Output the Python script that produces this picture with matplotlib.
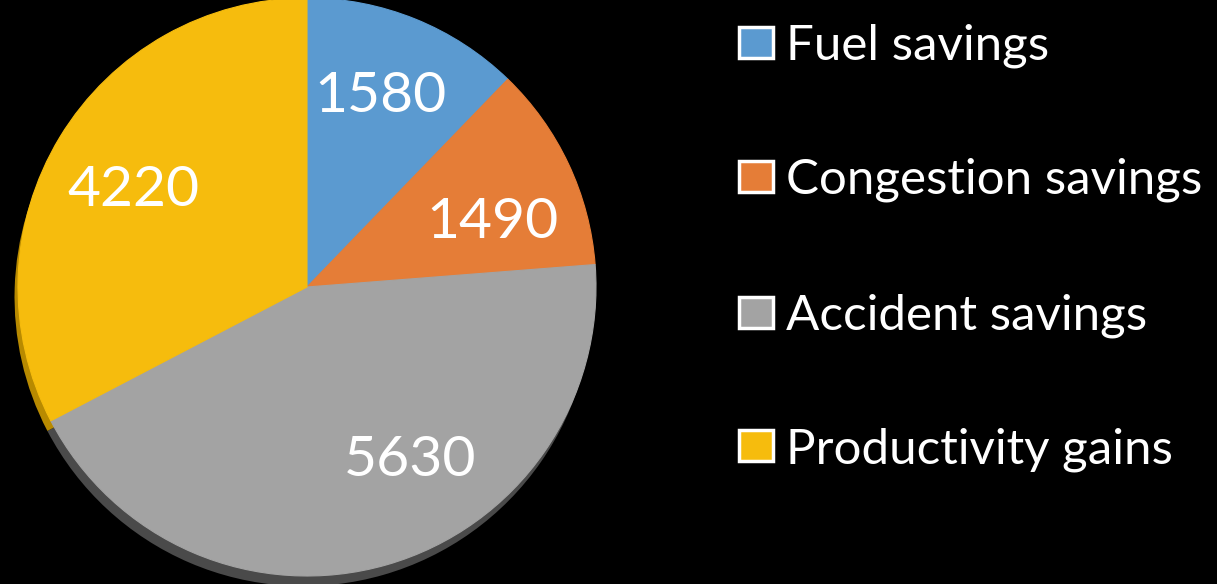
import matplotlib
matplotlib.use("Agg")
import matplotlib.pyplot as plt
from matplotlib.patches import Rectangle

labels = ["Fuel savings", "Congestion savings", "Accident savings", "Productivity gains"]
values = [1580, 1490, 5630, 4220]
colors = ["#5B9AD0", "#E57D37", "#A3A3A3", "#F6BC0D"]
shadow_colors = ["#3D6A90", "#A0561F", "#4A4A4A", "#B88A00"]

plt.rcParams['font.family'] = ['Lato', 'DejaVu Sans']

W, H = 1217, 584
fig = plt.figure(figsize=(W / 100, H / 100), dpi=100, facecolor="black")

# pie axes placed in pixels: center (307, 287), radius 289
cx, cy, r = 307, 287, 289
pad = 1.06
ax = fig.add_axes([(cx - r * pad) / W, (H - cy - r * pad) / H, 2 * r * pad / W, 2 * r * pad / H])
ax.set_facecolor("black")

# 3d-ish shadow underneath
ax.pie(values, colors=shadow_colors, startangle=90, counterclock=False,
       radius=1.0, center=(-0.012, -0.035), frame=True,
       wedgeprops=dict(linewidth=0))
wedges, texts = ax.pie(values, colors=colors, startangle=90, counterclock=False,
                       radius=1.0, center=(0, 0), frame=True,
                       wedgeprops=dict(linewidth=0.8))
for w, c in zip(wedges, colors):
    w.set_edgecolor(c)
ax.set_xlim(-pad, pad)
ax.set_ylim(-pad, pad)
ax.set_aspect("equal")
ax.axis("off")

# data labels (pixel positions converted to data units)
label_px = [(380, 97), (492, 222), (410, 460), (133, 190)]
for (px, py), v in zip(label_px, values):
    ax.text((px - cx) / r, (cy - py) / r, str(v), color="white", fontsize=41,
            ha="center", va="center")

# legend
rows = [42, 176, 312, 445]
for yc, lab, col in zip(rows, labels, colors):
    fig.patches.append(Rectangle((739 / W, (H - yc - 16) / H), 34 / W, 31 / H,
                                 transform=fig.transFigure, facecolor=col,
                                 edgecolor="white", linewidth=2.5))
    fig.text(786 / W, (H - yc) / H, lab, color="white", fontsize=35.5,
             ha="left", va="center_baseline")

fig.savefig("out.png", dpi=100, facecolor="black")
